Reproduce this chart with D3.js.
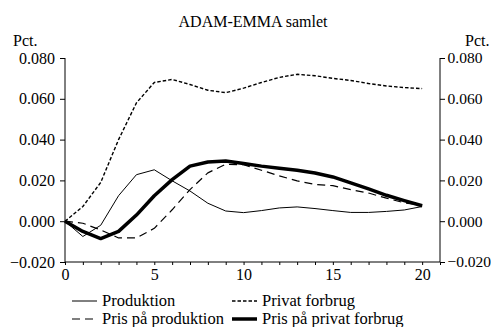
<!DOCTYPE html>
<html>
<head>
<meta charset="utf-8">
<script src="https://cdn.jsdelivr.net/npm/d3@7"></script>
<style>
  body { margin: 0; background: #fff; }
</style>
</head>
<body>
<div id="chart"></div>
<script>

let years = d3.range(0, 21);

let produktion = [0, -0.0075, -0.002, 0.0125, 0.0228, 0.0252, 0.0198, 0.0148, 0.0088, 0.005, 0.0042,
                  0.0052, 0.0065, 0.007, 0.0062, 0.0052, 0.0043, 0.0043, 0.0048, 0.0055, 0.0072];
let privatForbrug = [0, 0.0072, 0.019, 0.04, 0.058, 0.068, 0.0695, 0.067, 0.0642, 0.063, 0.0652,
                     0.068, 0.0705, 0.072, 0.0713, 0.07, 0.069, 0.0675, 0.0663, 0.0655, 0.065];
let prisProduktion = [0, -0.001, -0.0043, -0.0082, -0.0082, -0.0035, 0.0056, 0.0155, 0.0237, 0.0279, 0.0277,
                      0.025, 0.0222, 0.0198, 0.018, 0.0174, 0.0155, 0.0138, 0.0113, 0.009, 0.0078];
let prisPrivat = [0, -0.005, -0.0085, -0.005, 0.003, 0.0125, 0.0204, 0.027, 0.029, 0.0295, 0.0283,
                  0.027, 0.026, 0.025, 0.0236, 0.0217, 0.0188, 0.0158, 0.0127, 0.0101, 0.0076];

let yTicks = [-0.02, 0, 0.02, 0.04, 0.06, 0.08];
let xLabels = [0, 5, 10, 15, 20];

let series = [
    {name: "Produktion", values: produktion, width: 1, dash: null},
    {name: "Privat forbrug", values: privatForbrug, width: 1.4, dash: "3.5,2"},
    {name: "Pris på produktion", values: prisProduktion, width: 1.2, dash: "8,5"},
    {name: "Pris på privat forbrug", values: prisPrivat, width: 3.5, dash: null}
];

let width = 491,
    height = 327;

let x = d3.scaleLinear().domain([0, 21]).range([65, 440]);
let y = d3.scaleLinear().domain([-0.02, 0.08]).range([262, 58]);

let svg = d3.select("#chart")
    .append("svg")
    .attr("width", width)
    .attr("height", height);

svg.append("text")
    .attr("x", 253)
    .attr("y", 27)
    .attr("text-anchor", "middle")
    .text("ADAM-EMMA samlet");

svg.append("text").attr("x", 13).attr("y", 46).text("Pct.");
svg.append("text").attr("x", 465).attr("y", 46).text("Pct.");

let fmt = d3.format(".3f");

// left axis
let left = svg.append("g")
    .attr("transform", `translate(${x(0)},0)`)
    .call(d3.axisLeft(y).tickValues(yTicks).tickFormat(fmt).tickSize(5).tickPadding(5));

// right axis
let right = svg.append("g")
    .attr("class", "right-axis")
    .attr("transform", `translate(${x(21)},0)`)
    .call(d3.axisRight(y).tickValues(yTicks).tickFormat(fmt).tickSize(5).tickPadding(2.5));

// bottom axis, minor ticks every year
let bottom = svg.append("g")
    .attr("transform", `translate(0,${y(-0.02)})`)
    .call(d3.axisBottom(x).tickValues(d3.range(0, 22)).tickSize(3).tickPadding(4)
        .tickFormat(d => xLabels.includes(d) ? d : ""));

[left, right, bottom].forEach(g => {
    g.select(".domain").attr("stroke", "#000").attr("stroke-width", 1);
    g.selectAll(".tick line").attr("stroke", "#000");
});
left.select(".domain").attr("d", `M0,${y(-0.02)}V${y(0.08)}`);
right.select(".domain").attr("d", `M0,${y(-0.02)}V${y(0.08)}`);
bottom.select(".domain").attr("d", `M${x(0)},0H${x(21)}`);

let line = d3.line()
    .x((d, i) => x(years[i]))
    .y(d => y(d));

svg.append("g")
    .selectAll("path")
    .data(series)
    .join("path")
    .attr("fill", "none")
    .attr("stroke", "#000")
    .attr("stroke-width", d => d.width)
    .attr("stroke-dasharray", d => d.dash)
    .attr("stroke-linejoin", "round")
    .attr("d", d => line(d.values));

// legend
let legendPos = [[72, 301], [232, 301], [72, 319], [232, 319]];

let leg = svg.append("g")
    .attr("class", "legend")
    .selectAll("g")
    .data(series)
    .join("g")
    .attr("transform", (d, i) => `translate(${legendPos[i][0]},${legendPos[i][1]})`);

leg.append("line")
    .attr("x1", 0).attr("x2", 25)
    .attr("stroke", "#000")
    .attr("stroke-width", d => d.width)
    .attr("stroke-dasharray", d => d.dash);

leg.append("text")
    .attr("x", 30)
    .attr("y", 4.5)
    .text(d => d.name);

// every text in Times-like serif
svg.selectAll("text")
    .style("font-family", "Liberation Serif")
    .style("font-size", "16px")
    .style("fill", "#000");
svg.selectAll(".legend text").style("font-size", "16.5px");
svg.selectAll(".right-axis text").style("font-size", "15.5px");

</script>
</body>
</html>
